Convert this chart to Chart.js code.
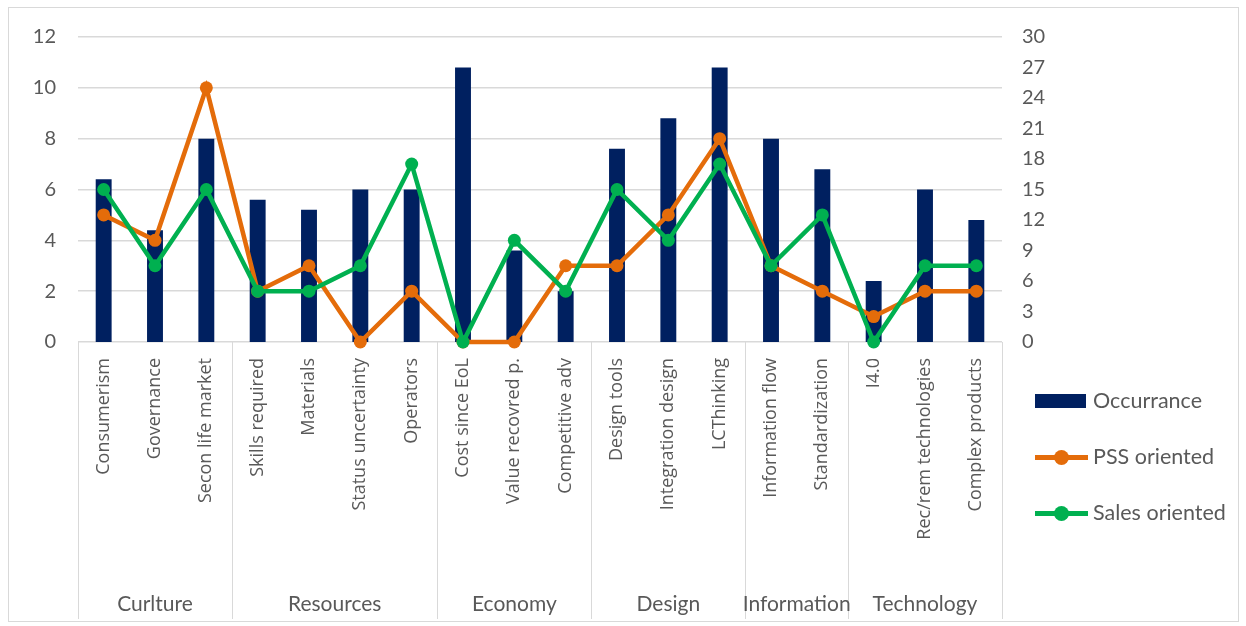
<!DOCTYPE html>
<html>
<head>
<meta charset="utf-8">
<script src="https://cdn.jsdelivr.net/npm/chart.js@4"></script>
<style>
  html, body { margin: 0; padding: 0; background: #fff; }
  #wrap { position: relative; width: 1246px; height: 626px; }
  #frame { position: absolute; left: 8px; top: 7px; width: 1229px; height: 613px; border: 1px solid #d9d9d9; pointer-events: none; }
  #chart { position: absolute; left: 0; top: 0; }
  #legend { position: absolute; left: 1035px; top: 385px; font-family: Lato, sans-serif; font-size: 21.5px; color: #595959; }
  .item { position: absolute; left: 0; height: 30px; width: 220px; }
  .item span.txt { position: absolute; left: 58px; top: 2px; white-space: nowrap; }
  .box { position: absolute; left: 0; top: 9px; width: 51px; height: 14px; }
  .line { position: absolute; left: 0; top: 14px; width: 53px; height: 5px; }
  .dot { position: absolute; left: 19px; top: 9px; width: 15px; height: 15px; border-radius: 50%; }
</style>
</head>
<body>
<div id="wrap">
  <canvas id="chart" width="1246" height="626"></canvas>
  <div id="frame"></div>
  <div id="legend"></div>
</div>
<script>
    // Data
    const categories = ['Consumerism', 'Governance', 'Secon life market', 'Skills required', 'Materials',
      'Status uncertainty', 'Operators', 'Cost since EoL', 'Value recovred p.', 'Competitive adv',
      'Design tools', 'Integration design', 'LCThinking', 'Information flow', 'Standardization',
      'I4.0', 'Rec/rem technologies', 'Complex products'];
    const groups = ['Curlture', 'Resources', 'Economy', 'Design', 'Information', 'Technology'];
    const groupSizes = [3, 4, 3, 3, 2, 3];
    const occurrance = [16, 11, 20, 14, 13, 15, 15, 27, 9, 5, 19, 22, 27, 20, 17, 6, 15, 12];
    const pssOriented = [5, 4, 10, 2, 3, 0, 2, 0, 0, 3, 3, 5, 8, 3, 2, 1, 2, 2];
    const salesOriented = [6, 3, 6, 2, 2, 3, 7, 0, 4, 2, 6, 4, 7, 3, 5, 0, 3, 3];
    const leftTicks = [0, 2, 4, 6, 8, 10, 12];
    const rightTicks = [0, 3, 6, 9, 12, 15, 18, 21, 24, 27, 30];

    const NAVY = '#002060';
    const ORANGE = '#E46C0A';
    const GREEN = '#00B050';
    const TEXT = '#595959';
    const GRID = '#d9d9d9';

    // Draws group labels and separators under the category axis
    const groupAxisPlugin = {
      id: 'groupAxis',
      afterDraw(chart) {
        const ctx = chart.ctx;
        const x = chart.scales.x;
        const area = chart.chartArea;
        const half = (x.getPixelForValue(1) - x.getPixelForValue(0)) / 2;
        ctx.save();
        ctx.strokeStyle = GRID;
        ctx.lineWidth = 1;
        let start = 0;
        const edges = [x.getPixelForValue(0) - half];
        groupSizes.forEach(n => {
          start += n;
          edges.push(x.getPixelForValue(start - 1) + half);
        });
        edges.forEach(px => {
          ctx.beginPath();
          ctx.moveTo(Math.round(px) + 0.5, area.bottom);
          ctx.lineTo(Math.round(px) + 0.5, 619);
          ctx.stroke();
        });
        ctx.fillStyle = TEXT;
        ctx.font = '21px Lato, sans-serif';
        ctx.textAlign = 'center';
        ctx.textBaseline = 'middle';
        groups.forEach((g, i) => {
          ctx.fillText(g, (edges[i] + edges[i + 1]) / 2, 604);
        });
        ctx.restore();
      }
    };

    const chart = new Chart(document.getElementById('chart').getContext('2d'), {
      data: {
        labels: categories,
        datasets: [
          {
            type: 'line',
            label: 'Sales oriented',
            data: salesOriented,
            yAxisID: 'y',
            borderColor: GREEN,
            backgroundColor: GREEN,
            borderWidth: 4.5,
            pointRadius: 6.5,
            pointBorderWidth: 0,
            tension: 0,
            clip: false,
            order: 1
          },
          {
            type: 'line',
            label: 'PSS oriented',
            data: pssOriented,
            yAxisID: 'y',
            borderColor: ORANGE,
            backgroundColor: ORANGE,
            borderWidth: 4.5,
            pointRadius: 6.5,
            pointBorderWidth: 0,
            tension: 0,
            clip: false,
            order: 2
          },
          {
            type: 'bar',
            label: 'Occurrance',
            data: occurrance,
            yAxisID: 'y1',
            backgroundColor: NAVY,
            barPercentage: 0.62,
            categoryPercentage: 0.5,
            order: 3
          }
        ]
      },
      options: {
        responsive: false,
        animation: false,
        layout: { padding: { top: 37, left: 0, right: 0, bottom: 0 } },
        plugins: {
          legend: { display: false },
          tooltip: { enabled: false }
        },
        scales: {
          x: {
            grid: { display: false },
            border: { display: false },
            ticks: {
              color: TEXT,
              font: { family: '"Open Sans", sans-serif', size: 18 },
              minRotation: 90,
              maxRotation: 90,
              autoSkip: false,
              padding: 8
            },
            afterFit: scale => { scale.height = 284; }
          },
          y: {
            position: 'left',
            min: 0,
            max: 12,
            afterBuildTicks: scale => { scale.ticks = leftTicks.map(v => ({ value: v })); },
            grid: { color: GRID, lineWidth: 1.5, drawTicks: false },
            border: { display: false },
            ticks: {
              color: TEXT,
              font: { family: 'Lato, sans-serif', size: 20 },
              padding: 22
            },
            afterFit: scale => { scale.width = 78; }
          },
          y1: {
            position: 'right',
            min: 0,
            max: 30,
            afterBuildTicks: scale => { scale.ticks = rightTicks.map(v => ({ value: v })); },
            grid: { display: false, drawTicks: false },
            border: { display: false },
            ticks: {
              color: TEXT,
              font: { family: 'Lato, sans-serif', size: 20 },
              padding: 20
            },
            afterFit: scale => { scale.width = 244; }
          }
        }
      },
      plugins: [groupAxisPlugin]
    });

    // HTML legend built from datasets
    const legend = document.getElementById('legend');
    const legendOrder = ['Occurrance', 'PSS oriented', 'Sales oriented'];
    legendOrder.forEach((name, i) => {
      const ds = chart.data.datasets.find(d => d.label === name);
      const item = document.createElement('div');
      item.className = 'item';
      item.style.top = (i * 56) + 'px';
      if (ds.type === 'bar') {
        item.innerHTML = '<div class="box" style="background:' + ds.backgroundColor + '"></div>';
      } else {
        item.innerHTML = '<div class="line" style="background:' + ds.borderColor + '"></div>' +
          '<div class="dot" style="background:' + ds.borderColor + '"></div>';
      }
      item.innerHTML += '<span class="txt">' + name + '</span>';
      legend.appendChild(item);
    });
</script>
</body>
</html>
